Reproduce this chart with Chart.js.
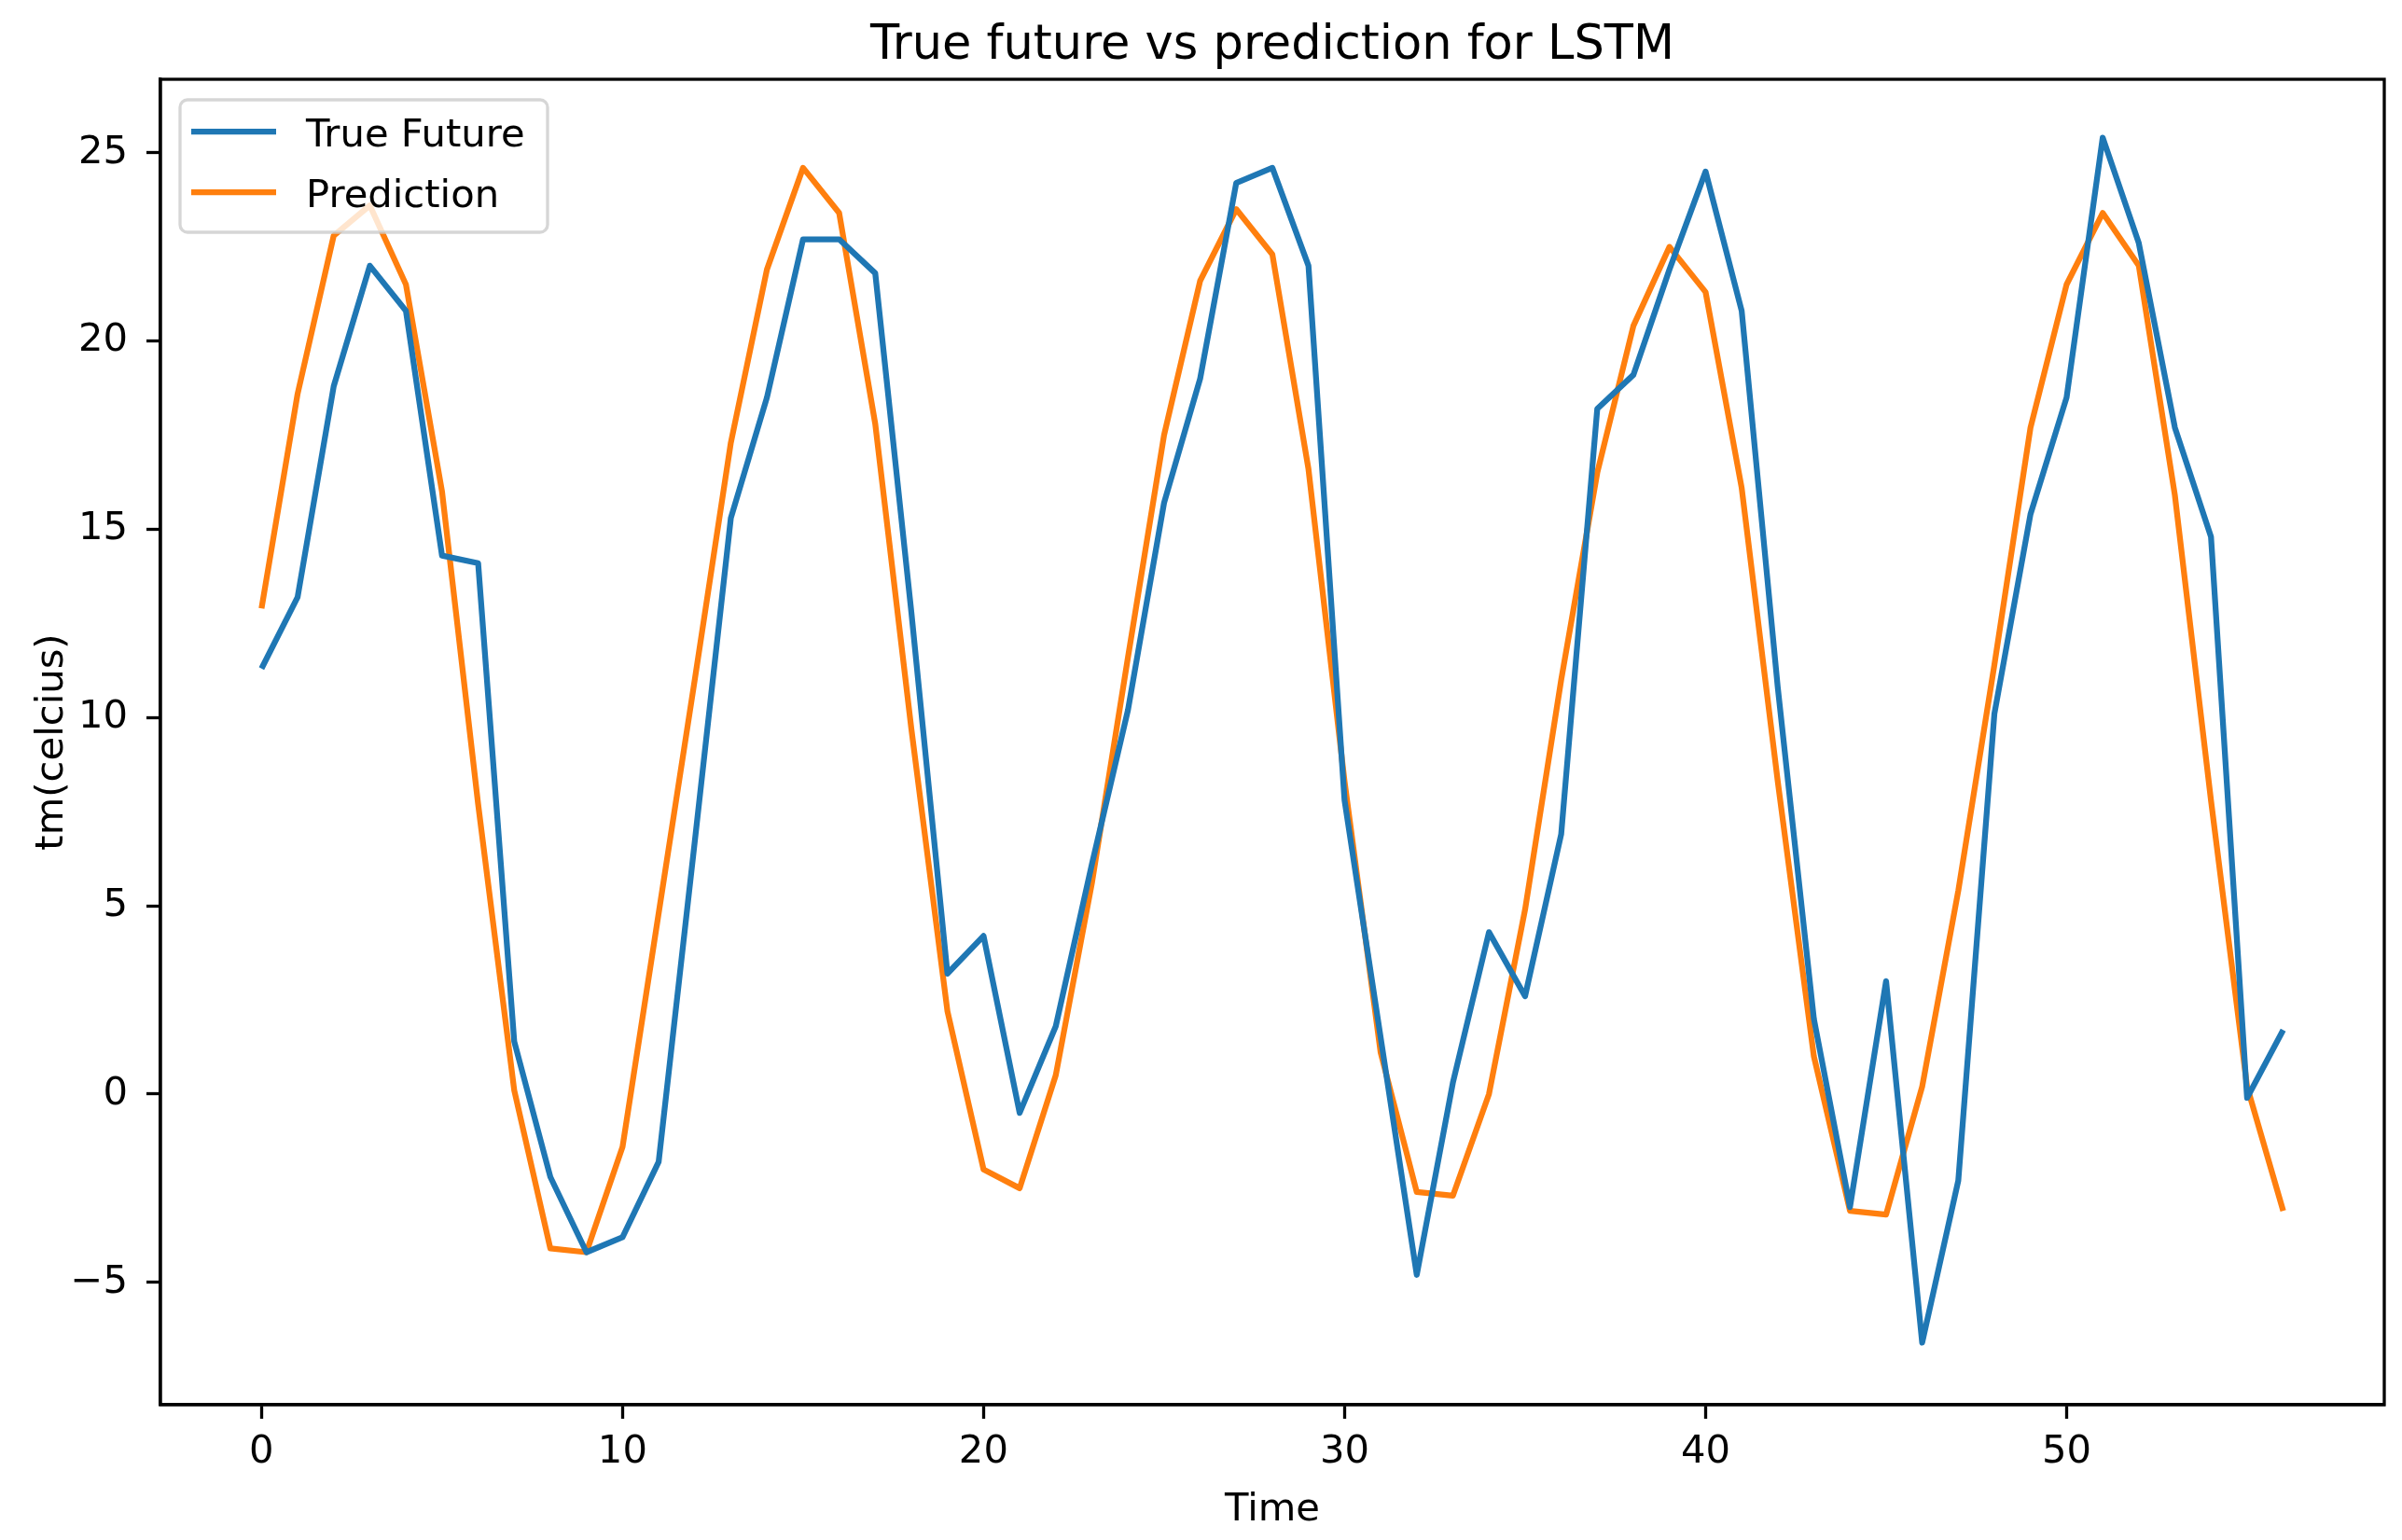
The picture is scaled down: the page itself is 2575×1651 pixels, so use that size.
<!DOCTYPE html>
<html>
<head>
<meta charset="utf-8">
<title>True future vs prediction for LSTM</title>
<script src="https://cdn.jsdelivr.net/npm/chart.js@4.4.1/dist/chart.umd.min.js"></script>
<style>
  html, body { margin: 0; padding: 0; background: #fff; }
  #chart { display: block; }
</style>
</head>
<body>
<canvas id="chart" width="2575" height="1651"></canvas>
<script>
// time steps (x) and the two series
const timeSteps = [0, 1, 2, 3, 4, 5, 6, 7, 8, 9, 10, 11, 12, 13, 14, 15, 16, 17, 18, 19,
  20, 21, 22, 23, 24, 25, 26, 27, 28, 29, 30, 31, 32, 33, 34, 35, 36, 37, 38, 39,
  40, 41, 42, 43, 44, 45, 46, 47, 48, 49, 50, 51, 52, 53, 54, 55, 56];

const trueFuture = [11.3, 13.2, 18.8, 22.0, 20.8, 14.3, 14.1, 1.4, -2.2, -4.2,
  -3.8, -1.8, 6.7, 15.3, 18.5, 22.7, 22.7, 21.8, 12.8, 3.2,
  4.2, -0.5, 1.8, 6.1, 10.2, 15.7, 19.0, 24.2, 24.6, 22.0,
  7.8, 1.5, -4.8, 0.3, 4.3, 2.6, 6.9, 18.2, 19.1, 21.9,
  24.5, 20.8, 10.8, 2.0, -3.0, 3.0, -6.6, -2.3, 10.1, 15.4,
  18.5, 25.4, 22.6, 17.7, 14.8, -0.1, 1.7];

const prediction = [12.9, 18.6, 22.8, 23.6, 21.5, 16.0, 7.7, 0.1, -4.1, -4.2,
  -1.4, 4.8, 11.0, 17.3, 21.9, 24.6, 23.4, 17.8, 9.7, 2.2,
  -2.0, -2.5, 0.5, 5.6, 11.6, 17.5, 21.6, 23.5, 22.3, 16.6,
  8.3, 1.1, -2.6, -2.7, 0.0, 4.9, 11.0, 16.5, 20.4, 22.5,
  21.3, 16.1, 8.3, 1.0, -3.1, -3.2, 0.2, 5.4, 11.4, 17.7,
  21.5, 23.4, 22.0, 15.9, 7.8, 0.2, -3.1];

const xTicks = [0, 10, 20, 30, 40, 50];
const yTicks = [-5, 0, 5, 10, 15, 20, 25];

const chartTitle = "True future vs prediction for LSTM";
const FONT = "'DejaVu Sans', sans-serif";

// top/right spines, like matplotlib's box
const frameBox = {
  id: "frameBox",
  afterDraw(chart) {
    const { ctx, chartArea: a } = chart;
    ctx.save();
    ctx.strokeStyle = "#000";
    ctx.lineWidth = 3.3;
    ctx.strokeRect(a.left, a.top, a.right - a.left, a.bottom - a.top);
    ctx.restore();
  }
};

// title centred over the axes (not the whole canvas)
const axesTitle = {
  id: "axesTitle",
  afterDraw(chart) {
    const { ctx, chartArea: a } = chart;
    ctx.save();
    ctx.font = "51px " + FONT;
    ctx.fillStyle = "#000";
    ctx.textAlign = "center";
    ctx.textBaseline = "alphabetic";
    ctx.fillText(chartTitle, (a.left + a.right) / 2, a.top - 22);
    ctx.restore();
  }
};

// legend in the upper left corner of the axes
const innerLegend = {
  id: "innerLegend",
  afterDraw(chart) {
    const { ctx, chartArea: a } = chart;
    const x = a.left + 21, y = a.top + 22, w = 394, h = 142, r = 8;
    ctx.save();
    ctx.beginPath();
    ctx.roundRect(x, y, w, h, r);
    ctx.fillStyle = "rgba(255,255,255,0.8)";
    ctx.fill();
    ctx.strokeStyle = "rgba(204,204,204,0.8)";
    ctx.lineWidth = 3.3;
    ctx.stroke();
    ctx.font = "41.7px " + FONT;
    ctx.textBaseline = "middle";
    chart.data.datasets.forEach((ds, i) => {
      const ly = y + 34 + i * 65;
      ctx.strokeStyle = ds.borderColor;
      ctx.lineWidth = 6.25;
      ctx.beginPath();
      ctx.moveTo(x + 12, ly);
      ctx.lineTo(x + 103, ly);
      ctx.stroke();
      ctx.fillStyle = "#000";
      ctx.fillText(ds.label, x + 135, ly + 5);
    });
    ctx.restore();
  }
};

new Chart(document.getElementById("chart"), {
  type: "line",
  data: {
    datasets: [
      {
        label: "True Future",
        data: timeSteps.map((t, i) => ({ x: t, y: trueFuture[i] })),
        borderColor: "#1f77b4",
        borderWidth: 6.25,
        pointRadius: 0,
        tension: 0,
        borderJoinStyle: "round",
        fill: false
      },
      {
        label: "Prediction",
        data: timeSteps.map((t, i) => ({ x: t, y: prediction[i] })),
        borderColor: "#ff7f0e",
        borderWidth: 6.25,
        pointRadius: 0,
        tension: 0,
        borderJoinStyle: "round",
        fill: false
      }
    ]
  },
  options: {
    responsive: false,
    devicePixelRatio: 1,
    animation: false,
    layout: { padding: { top: 85, right: 19, bottom: 0, left: 0 } },
    plugins: {
      legend: { display: false },
      tooltip: { enabled: false },
      title: { display: false }
    },
    scales: {
      x: {
        type: "linear",
        min: -2.8,
        max: 58.8,
        afterBuildTicks: scale => { scale.ticks = xTicks.map(v => ({ value: v })); },
        afterFit: scale => { scale.height = 145; },
        ticks: {
          autoSkip: false,
          maxRotation: 0,
          padding: 11,
          color: "#000",
          font: { family: FONT, size: 41.7 }
        },
        grid: {
          drawOnChartArea: false,
          drawTicks: true,
          tickLength: 15,
          tickWidth: 3.3,
          tickColor: "#000"
        },
        border: { display: true, color: "#000", width: 3.3 },
        title: {
          display: true,
          text: "Time",
          color: "#000",
          font: { family: FONT, size: 41.7 },
          padding: { top: 0, bottom: 7 }
        }
      },
      y: {
        type: "linear",
        min: -8.25,
        max: 26.95,
        afterBuildTicks: scale => { scale.ticks = yTicks.map(v => ({ value: v })); },
        afterFit: scale => { scale.width = 172; },
        ticks: {
          padding: 20,
          color: "#000",
          font: { family: FONT, size: 41.7 },
          callback: v => (v < 0 ? "\u2212" + Math.abs(v) : String(v))
        },
        grid: {
          drawOnChartArea: false,
          drawTicks: true,
          tickLength: 15,
          tickWidth: 3.3,
          tickColor: "#000"
        },
        border: { display: true, color: "#000", width: 3.3 },
        title: {
          display: true,
          text: "tm(celcius)",
          color: "#000",
          font: { family: FONT, size: 41.7 },
          padding: { top: 31, bottom: 0 }
        }
      }
    }
  },
  plugins: [frameBox, axesTitle, innerLegend]
});
</script>
</body>
</html>
